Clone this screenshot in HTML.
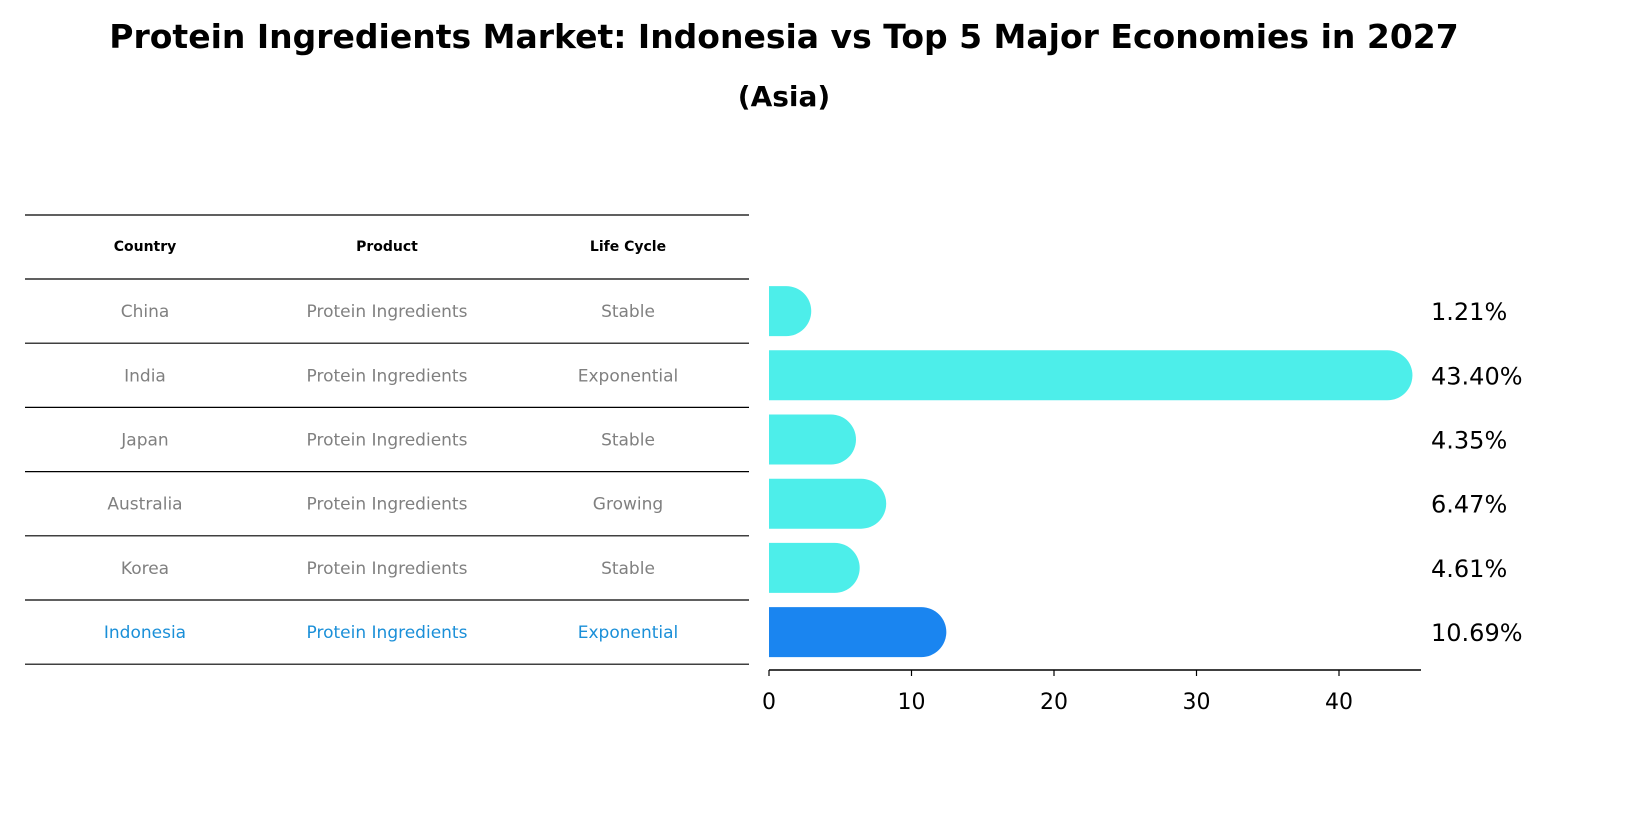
<!DOCTYPE html>
<html><head><meta charset="utf-8"><style>
body{margin:0;background:#fff;font-family:"DejaVu Sans","Liberation Sans",sans-serif;}
svg{display:block}
</style></head><body>
<svg width="1627" height="823" xmlns="http://www.w3.org/2000/svg" id="chart">
<text x="784" y="48" text-anchor="middle" font-size="33" font-weight="bold">Protein Ingredients Market: Indonesia vs Top 5 Major Economies in 2027</text>
<text x="784" y="106" text-anchor="middle" font-size="28" font-weight="bold">(Asia)</text>
<g id="table"></g>
<g id="bars"></g>
</svg>
<script>
const countries=["China","India","Japan","Australia","Korea","Indonesia"];
const products=["Protein Ingredients","Protein Ingredients","Protein Ingredients","Protein Ingredients","Protein Ingredients","Protein Ingredients"];
const lifeCycles=["Stable","Exponential","Stable","Growing","Stable","Exponential"];
const values=[1.21,43.40,4.35,6.47,4.61,10.69];
const tickValues=[0,10,20,30,40];
const NS="http://www.w3.org/2000/svg";
const x0=769,pxPerUnit=14.25,rowTop=279,rowH=64.2,barH=50,cap=25;
const xs=v=>x0+v*pxPerUnit;
const yc=i=>rowTop+rowH*i+rowH/2;
function mk(tag,attrs,parent){const e=document.createElementNS(NS,tag);for(const k in attrs)e.setAttribute(k,attrs[k]);parent.appendChild(e);return e;}
const table=document.getElementById('table');
const cols=[145,387,628];
const heads=["Country","Product","Life Cycle"];
heads.forEach((h,j)=>{const t=mk('text',{x:cols[j],y:251,'text-anchor':'middle','font-size':14,'font-weight':'bold'},table);t.textContent=h;

});
for(let k=0;k<=countries.length+1;k++){const y=k==0?215:rowTop+rowH*(k-1);
const l=mk('line',{x1:25,x2:749,y1:y,y2:y,stroke:'#000','stroke-width':1.2},table);

}
countries.forEach((c,i)=>{const col=i==countries.length-1?'#1a8fd8':'#808080';
[c,products[i],lifeCycles[i]].forEach((s,j)=>{const t=mk('text',{x:cols[j],y:yc(i)+6,'text-anchor':'middle','font-size':17,fill:col},table);t.textContent=s;

});});
const bars=document.getElementById('bars');
values.forEach((v,i)=>{const col=i==values.length-1?'#1a85f0':'#4deeea';
const xe=xs(v),yt=yc(i)-barH/2;
const p=mk('path',{d:`M${x0},${yt} H${xe} A${cap},${cap} 0 0 1 ${xe},${yt+barH} H${x0} Z`,fill:col},bars);


const t=mk('text',{x:1431,y:yc(i)+9,'font-size':24},bars);t.textContent=v.toFixed(2)+'%';

});
const ax=mk('line',{x1:x0,x2:1421,y1:670,y2:670,stroke:'#000','stroke-width':1.5},bars);


tickValues.forEach(v=>{const tk=mk('line',{x1:xs(v),x2:xs(v),y1:670,y2:676,stroke:'#000','stroke-width':1.2},bars);


const t=mk('text',{x:xs(v),y:709,'text-anchor':'middle','font-size':22},bars);t.textContent=v;

});
</script>
</body></html>
